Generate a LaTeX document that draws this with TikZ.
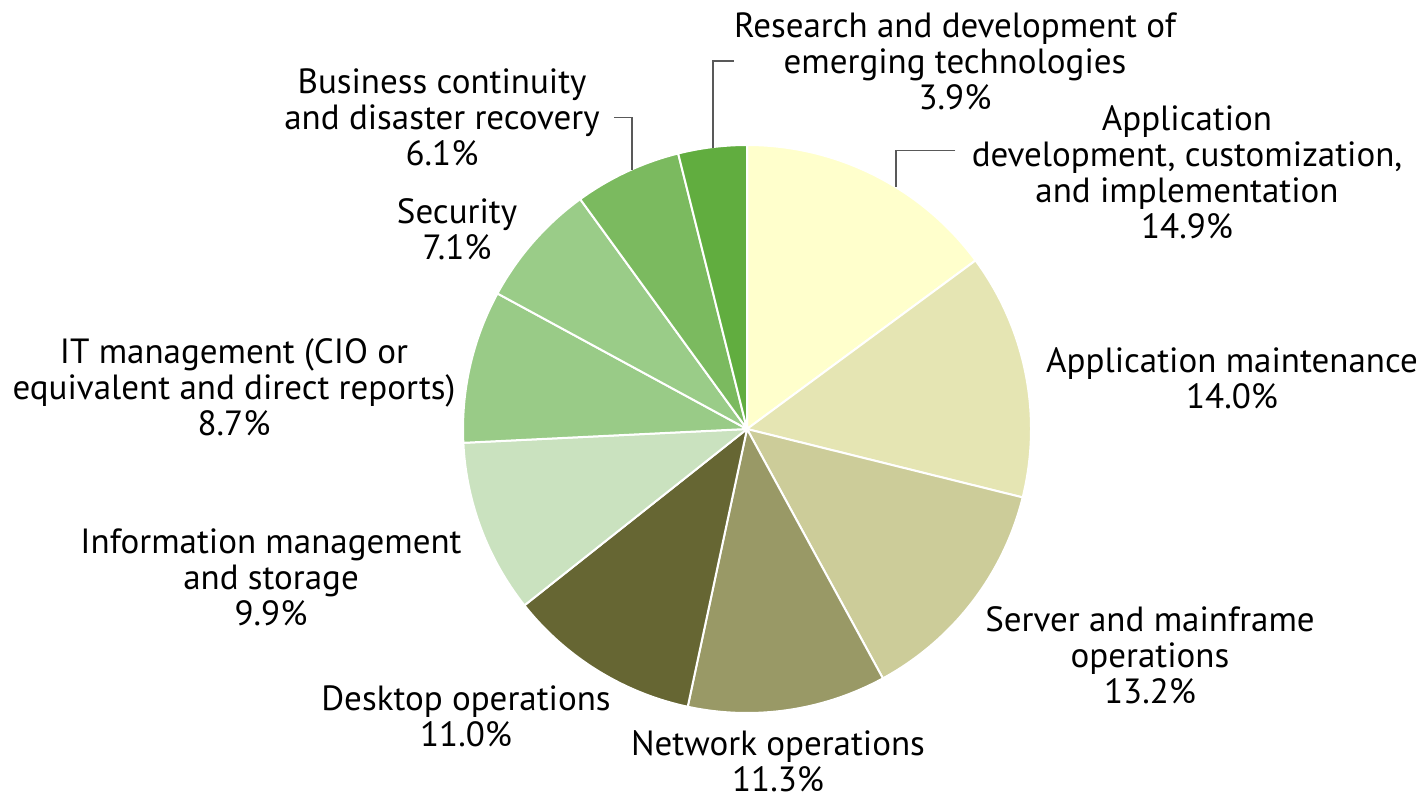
\documentclass[tikz,border=0pt]{standalone}
\usepackage{fontspec}
\setmainfont{PT Sans}
\usepackage{tikz}

\definecolor{appdevc}{HTML}{FFFFCC}
\definecolor{appmaintc}{HTML}{E5E5B3}
\definecolor{serverc}{HTML}{CCCC99}
\definecolor{networkc}{HTML}{999966}
\definecolor{desktopc}{HTML}{666633}
\definecolor{infoc}{HTML}{CAE2BF}
\definecolor{itc}{HTML}{99CB87}
\definecolor{securityc}{HTML}{9ACC88}
\definecolor{bizc}{HTML}{7BBA5F}
\definecolor{rndc}{HTML}{61AD3F}

\tikzset{
  slice/.style={draw=white, line width=1pt, line join=round},
  lbl/.style={align=center, inner ysep=0pt, inner xsep=0pt,
    font=\fontsize{17.5}{18}\selectfont},
  leader/.style={draw=black!65, line width=0.8pt}
}

\begin{document}
\begin{tikzpicture}[x=0.5pt, y=0.5pt]
	\useasboundingbox (0,0) rectangle (1427,800);
	\coordinate (c) at (747,371);

	% slices, clockwise from the top
	\filldraw[slice, fill=appdevc]    (c) -- ++(90:284)      arc[start angle=90,      end angle=36.41,   radius=284] -- cycle;
	\filldraw[slice, fill=appmaintc]  (c) -- ++(36.41:284)   arc[start angle=36.41,   end angle=-13.94,  radius=284] -- cycle;
	\filldraw[slice, fill=serverc]    (c) -- ++(-13.94:284)  arc[start angle=-13.94,  end angle=-61.41,  radius=284] -- cycle;
	\filldraw[slice, fill=networkc]   (c) -- ++(-61.41:284)  arc[start angle=-61.41,  end angle=-102.05, radius=284] -- cycle;
	\filldraw[slice, fill=desktopc]   (c) -- ++(-102.05:284) arc[start angle=-102.05, end angle=-141.61, radius=284] -- cycle;
	\filldraw[slice, fill=infoc]      (c) -- ++(-141.61:284) arc[start angle=-141.61, end angle=-177.21, radius=284] -- cycle;
	\filldraw[slice, fill=itc]        (c) -- ++(-177.21:284) arc[start angle=-177.21, end angle=-208.5,  radius=284] -- cycle;
	\filldraw[slice, fill=securityc]  (c) -- ++(-208.5:284)  arc[start angle=-208.5,  end angle=-234.03, radius=284] -- cycle;
	\filldraw[slice, fill=bizc]       (c) -- ++(-234.03:284) arc[start angle=-234.03, end angle=-255.97, radius=284] -- cycle;
	\filldraw[slice, fill=rndc]       (c) -- ++(-255.97:284) arc[start angle=-255.97, end angle=-270,    radius=284] -- cycle;

	% labels
	\node[lbl] (rnd)      at (955,739)   {Research and development of\\emerging technologies\\3.9\%};
	\node[lbl, inner xsep=8pt] (appdev) at (1187,627.5) {Application\\development, customization,\\and implementation\\14.9\%};
	\node[lbl] (appmaint) at (1232,421.5) {Application maintenance\\14.0\%};
	\node[lbl] (server)   at (1150,145)  {Server and mainframe\\operations\\13.2\%};
	\node[lbl] (network)  at (778,39)    {Network operations\\11.3\%};
	\node[lbl] (desktop)  at (466,84)    {Desktop operations\\11.0\%};
	\node[lbl] (info)     at (271,222.5) {Information management\\and storage\\9.9\%};
	\node[lbl] (itmgmt)   at (234,412.5) {IT management (CIO or\\equivalent and direct reports)\\8.7\%};
	\node[lbl] (security) at (457,571)   {Security\\7.1\%};
	\node[lbl, inner xsep=7pt] (biz) at (442,682.5) {Business continuity\\and disaster recovery\\6.1\%};

	% leader lines
	\coordinate (bizend)    at (632,630);
	\coordinate (rndend)    at (713,652);
	\coordinate (appdevend) at (896,613);

	\draw[leader] (biz.east) -| (bizend);
	\draw[leader] (rnd.west) -| (rndend);
	\draw[leader] ([yshift=11pt]appdev.west) -| (appdevend);
\end{tikzpicture}
\end{document}
